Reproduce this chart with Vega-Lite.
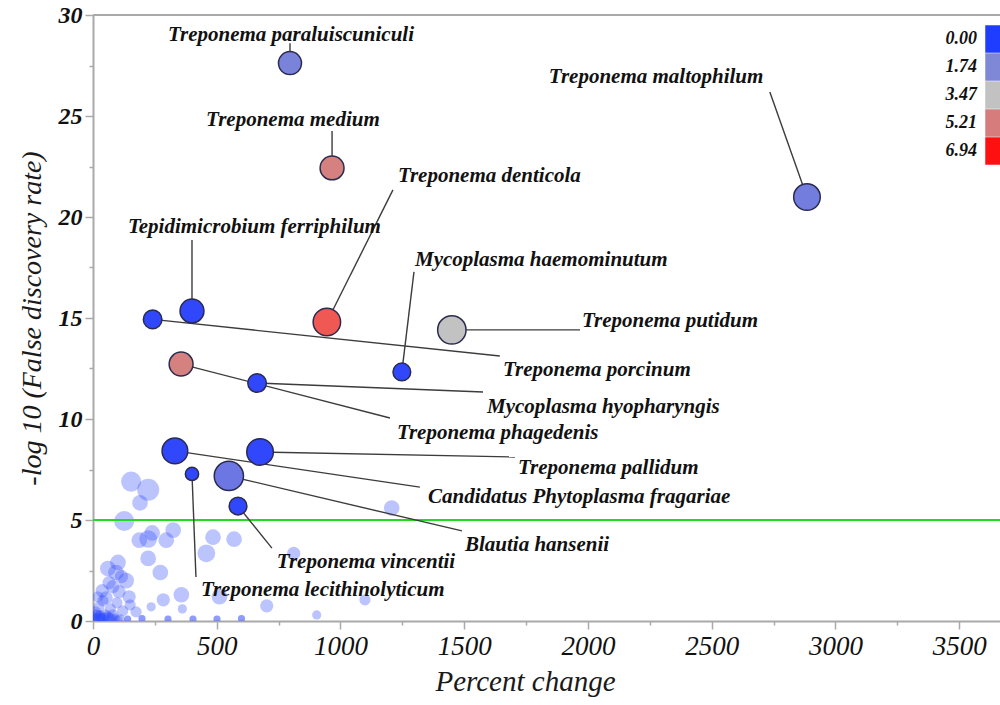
{
  "$schema": "https://vega.github.io/schema/vega-lite/v6.json",
  "width": 907,
  "height": 606,
  "autosize": "none",
  "padding": {"left": 93, "top": 15, "right": 0, "bottom": 84},
  "background": "white",
  "config": {
    "view": {"stroke": null},
    "font": "Liberation Serif",
    "legend": {
      "orient": "none", "legendX": 892, "legendY": 10, "padding": 0, "offset": 0,
      "symbolType": "square", "symbolSize": 756, "symbolStrokeWidth": 0, "symbolOpacity": 1,
      "rowPadding": 0, "labelAlign": "right", "labelOffset": -36,
      "labelFont": "Liberation Serif", "labelFontStyle": "italic", "labelFontWeight": "bold",
      "labelFontSize": 18, "labelColor": "#111111"
    }
  },
  "datasets": {
    "taxa": [
      {"name": "Treponema paraluiscuniculi", "labeled": true, "pct": 796, "fdr": 27.62, "abundance": 169, "score": 1.6, "labelX": 303, "labelY": 29.0, "lineX": 796, "lineY": 28.6},
      {"name": "Treponema medium", "labeled": true, "pct": 966, "fdr": 22.43, "abundance": 182, "score": 5.1, "labelX": 457, "labelY": 24.8, "lineX": 966, "lineY": 24.26},
      {"name": "Treponema maltophilum", "labeled": true, "pct": 2885, "fdr": 20.99, "abundance": 225, "score": 1.45, "labelX": 1842, "labelY": 26.93, "lineX": 2735, "lineY": 26.19},
      {"name": "Treponema denticola", "labeled": true, "pct": 945, "fdr": 14.8, "abundance": 240, "score": 6.0, "labelX": 1232, "labelY": 22.03, "lineX": 1212, "lineY": 21.34},
      {"name": "Tepidimicrobium ferriphilum", "labeled": true, "pct": 400, "fdr": 15.35, "abundance": 182, "score": 0.2, "labelX": 141, "labelY": 19.5, "lineX": 400, "lineY": 18.86},
      {"name": "Mycoplasma haemominutum", "labeled": true, "pct": 1248, "fdr": 12.33, "abundance": 100, "score": 0.2, "labelX": 1301, "labelY": 17.87, "lineX": 1297, "lineY": 17.28},
      {"name": "Treponema putidum", "labeled": true, "pct": 1450, "fdr": 14.41, "abundance": 256, "score": 3.47, "labelX": 1976, "labelY": 14.85, "lineX": 1968, "lineY": 14.41},
      {"name": "Treponema porcinum", "labeled": true, "pct": 241, "fdr": 14.93, "abundance": 110, "score": 0.2, "labelX": 1657, "labelY": 12.43, "lineX": 1644, "lineY": 13.12},
      {"name": "Mycoplasma hyopharyngis", "labeled": true, "pct": 663, "fdr": 11.78, "abundance": 110, "score": 0.2, "labelX": 1592, "labelY": 10.6, "lineX": 1576, "lineY": 11.34},
      {"name": "Treponema phagedenis", "labeled": true, "pct": 356, "fdr": 12.72, "abundance": 182, "score": 5.1, "labelX": 1228, "labelY": 9.3, "lineX": 1200, "lineY": 10.05},
      {"name": "Treponema pallidum", "labeled": true, "pct": 675, "fdr": 8.37, "abundance": 225, "score": 0.2, "labelX": 1717, "labelY": 7.57, "lineX": 1705, "lineY": 8.12},
      {"name": "Candidatus Phytoplasma fragariae", "labeled": true, "pct": 331, "fdr": 8.42, "abundance": 210, "score": 0.2, "labelX": 1354, "labelY": 6.14, "lineX": 1321, "lineY": 6.63},
      {"name": "Blautia hansenii", "labeled": true, "pct": 549, "fdr": 7.18, "abundance": 272, "score": 1.3, "labelX": 1503, "labelY": 3.76, "lineX": 1491, "lineY": 4.46},
      {"name": "Treponema vincentii", "labeled": true, "pct": 586, "fdr": 5.69, "abundance": 100, "score": 0.2, "labelX": 743, "labelY": 2.92, "lineX": 723, "lineY": 3.61},
      {"name": "Treponema lecithinolyticum", "labeled": true, "pct": 400, "fdr": 7.28, "abundance": 56, "score": 0.2, "labelX": 436, "labelY": 1.53, "lineX": 416, "lineY": 2.18},

      {"labeled": false, "pct": 12, "fdr": 0.3, "abundance": 40, "score": 0.2},
      {"labeled": false, "pct": 24, "fdr": 0.7, "abundance": 40, "score": 0.2},
      {"labeled": false, "pct": 37, "fdr": 1.5, "abundance": 56, "score": 0.2},
      {"labeled": false, "pct": 53, "fdr": 1.15, "abundance": 56, "score": 0.2},
      {"labeled": false, "pct": 65, "fdr": 1.9, "abundance": 56, "score": 0.2},
      {"labeled": false, "pct": 93, "fdr": 2.4, "abundance": 78, "score": 0.2},
      {"labeled": false, "pct": 97, "fdr": 0.9, "abundance": 40, "score": 0.2},
      {"labeled": false, "pct": 101, "fdr": 2.9, "abundance": 78, "score": 0.2},
      {"labeled": false, "pct": 105, "fdr": 1.45, "abundance": 56, "score": 0.2},
      {"labeled": false, "pct": 126, "fdr": 4.95, "abundance": 128, "score": 0.2},
      {"labeled": false, "pct": 134, "fdr": 2.0, "abundance": 78, "score": 0.2},
      {"labeled": false, "pct": 146, "fdr": 1.2, "abundance": 56, "score": 0.2},
      {"labeled": false, "pct": 154, "fdr": 6.9, "abundance": 128, "score": 0.2},
      {"labeled": false, "pct": 174, "fdr": 0.45, "abundance": 40, "score": 0.2},
      {"labeled": false, "pct": 187, "fdr": 4.0, "abundance": 78, "score": 0.2},
      {"labeled": false, "pct": 190, "fdr": 5.85, "abundance": 78, "score": 0.2},
      {"labeled": false, "pct": 223, "fdr": 6.5, "abundance": 155, "score": 0.2},
      {"labeled": false, "pct": 223, "fdr": 4.06, "abundance": 100, "score": 0.2},
      {"labeled": false, "pct": 223, "fdr": 3.1, "abundance": 78, "score": 0.2},
      {"labeled": false, "pct": 235, "fdr": 0.7, "abundance": 27, "score": 0.2},
      {"labeled": false, "pct": 239, "fdr": 4.36, "abundance": 78, "score": 0.2},
      {"labeled": false, "pct": 272, "fdr": 2.4, "abundance": 78, "score": 0.2},
      {"labeled": false, "pct": 284, "fdr": 1.05, "abundance": 56, "score": 0.2},
      {"labeled": false, "pct": 296, "fdr": 4.0, "abundance": 78, "score": 0.2},
      {"labeled": false, "pct": 324, "fdr": 4.5, "abundance": 78, "score": 0.2},
      {"labeled": false, "pct": 357, "fdr": 1.3, "abundance": 78, "score": 0.2},
      {"labeled": false, "pct": 361, "fdr": 0.6, "abundance": 27, "score": 0.2},
      {"labeled": false, "pct": 458, "fdr": 3.35, "abundance": 100, "score": 0.2},
      {"labeled": false, "pct": 485, "fdr": 4.15, "abundance": 78, "score": 0.2},
      {"labeled": false, "pct": 511, "fdr": 1.2, "abundance": 78, "score": 0.2},
      {"labeled": false, "pct": 570, "fdr": 4.05, "abundance": 78, "score": 0.2},
      {"labeled": false, "pct": 702, "fdr": 0.75, "abundance": 56, "score": 0.2},
      {"labeled": false, "pct": 811, "fdr": 3.35, "abundance": 56, "score": 0.2},
      {"labeled": false, "pct": 904, "fdr": 0.3, "abundance": 27, "score": 0.2},
      {"labeled": false, "pct": 1099, "fdr": 1.05, "abundance": 40, "score": 0.2},
      {"labeled": false, "pct": 1207, "fdr": 5.59, "abundance": 78, "score": 0.2},
      {"labeled": false, "pct": 60, "fdr": 2.6, "abundance": 78, "score": 0.2},
      {"labeled": false, "pct": 80, "fdr": 1.7, "abundance": 56, "score": 0.2},
      {"labeled": false, "pct": 115, "fdr": 2.2, "abundance": 56, "score": 0.2},
      {"labeled": false, "pct": 40, "fdr": 1.0, "abundance": 40, "score": 0.2},
      {"labeled": false, "pct": 70, "fdr": 0.6, "abundance": 40, "score": 0.2},
      {"labeled": false, "pct": 120, "fdr": 0.5, "abundance": 40, "score": 0.2},
      {"labeled": false, "pct": 150, "fdr": 0.8, "abundance": 40, "score": 0.2},
      {"labeled": false, "pct": 20, "fdr": 1.2, "abundance": 40, "score": 0.2},
      {"labeled": false, "pct": 5, "fdr": 0.1, "abundance": 56, "score": 0.2},
      {"labeled": false, "pct": 18, "fdr": 0.15, "abundance": 78, "score": 0.2},
      {"labeled": false, "pct": 30, "fdr": 0.25, "abundance": 40, "score": 0.2},
      {"labeled": false, "pct": 45, "fdr": 0.1, "abundance": 56, "score": 0.2},
      {"labeled": false, "pct": 60, "fdr": 0.2, "abundance": 40, "score": 0.2},
      {"labeled": false, "pct": 75, "fdr": 0.1, "abundance": 40, "score": 0.2},
      {"labeled": false, "pct": 90, "fdr": 0.15, "abundance": 27, "score": 0.2},
      {"labeled": false, "pct": 110, "fdr": 0.1, "abundance": 27, "score": 0.2},
      {"labeled": false, "pct": 35, "fdr": 0.05, "abundance": 56, "score": 0.2},
      {"labeled": false, "pct": 65, "fdr": 0.05, "abundance": 56, "score": 0.2},
      {"labeled": false, "pct": 8, "fdr": 0.4, "abundance": 56, "score": 0.2},
      {"labeled": false, "pct": 25, "fdr": 0.1, "abundance": 56, "score": 0.2},
      {"labeled": false, "pct": 50, "fdr": 0.3, "abundance": 42, "score": 0.2},
      {"labeled": false, "pct": 15, "fdr": 0.05, "abundance": 56, "score": 0.2},
      {"labeled": false, "pct": 80, "fdr": 0.3, "abundance": 42, "score": 0.2},
      {"labeled": false, "pct": 100, "fdr": 0.05, "abundance": 30, "score": 0.2},
      {"labeled": false, "pct": 140, "fdr": 0.1, "abundance": 16, "score": 0.2},
      {"labeled": false, "pct": 140, "fdr": 0.1, "abundance": 16, "score": 0.2},
      {"labeled": false, "pct": 198, "fdr": 0.12, "abundance": 16, "score": 0.2},
      {"labeled": false, "pct": 198, "fdr": 0.12, "abundance": 16, "score": 0.2},
      {"labeled": false, "pct": 303, "fdr": 0.1, "abundance": 16, "score": 0.2},
      {"labeled": false, "pct": 303, "fdr": 0.1, "abundance": 16, "score": 0.2},
      {"labeled": false, "pct": 404, "fdr": 0.1, "abundance": 16, "score": 0.2},
      {"labeled": false, "pct": 404, "fdr": 0.1, "abundance": 16, "score": 0.2},
      {"labeled": false, "pct": 501, "fdr": 0.1, "abundance": 16, "score": 0.2},
      {"labeled": false, "pct": 501, "fdr": 0.1, "abundance": 16, "score": 0.2},
      {"labeled": false, "pct": 600, "fdr": 0.12, "abundance": 16, "score": 0.2},
      {"labeled": false, "pct": 600, "fdr": 0.12, "abundance": 16, "score": 0.2}
    ],
    "guides": [
      {"role": "frame", "level": 30},
      {"role": "threshold", "level": 5}
    ]
  },
  "data": {"name": "taxa"},
  "layer": [
    {
      "data": {"name": "guides"},
      "transform": [{"filter": "datum.role === 'frame'"}],
      "mark": {"type": "rule", "color": "#a9a9a9", "strokeWidth": 2},
      "encoding": {
        "y": {"field": "level", "type": "quantitative", "scale": {"domain": [0, 30], "nice": false}}
      }
    },
    {
      "transform": [{"filter": "!datum.labeled"}],
      "mark": {"type": "circle", "opacity": 0.32, "clip": true},
      "encoding": {
        "x": {"field": "pct", "type": "quantitative"},
        "y": {"field": "fdr", "type": "quantitative"},
        "size": {"field": "abundance", "type": "quantitative", "scale": {"type": "linear", "domain": [0, 300], "range": [0, 942.5]}, "legend": null},
        "color": {
          "field": "score", "type": "quantitative",
          "scale": {"domain": [0, 1.74, 3.47, 5.21, 6.94], "range": ["#1f3dff", "#7f88d6", "#c2c2c2", "#d67c7c", "#ff1010"]},
          "legend": {"type": "symbol", "values": [0, 1.74, 3.47, 5.21, 6.94], "format": ".2f", "title": null}
        }
      }
    },
    {
      "data": {"name": "guides"},
      "transform": [{"filter": "datum.role === 'threshold'"}],
      "mark": {"type": "rule", "color": "#1fdc1f", "strokeWidth": 2},
      "encoding": {
        "y": {"field": "level", "type": "quantitative"}
      }
    },
    {
      "transform": [{"filter": "datum.labeled"}],
      "mark": {"type": "rule", "color": "#3c3c3c", "strokeWidth": 1.4},
      "encoding": {
        "x": {"field": "pct", "type": "quantitative"},
        "y": {"field": "fdr", "type": "quantitative"},
        "x2": {"field": "lineX"},
        "y2": {"field": "lineY"}
      }
    },
    {
      "transform": [{"filter": "datum.labeled"}],
      "mark": {"type": "circle", "opacity": 1, "stroke": "#2b2b50", "strokeWidth": 1.5},
      "encoding": {
        "x": {
          "field": "pct", "type": "quantitative",
          "scale": {"domain": [0, 3665], "nice": false, "zero": true},
          "axis": {
            "title": "Percent change",
            "titleFont": "Liberation Serif", "titleFontStyle": "italic", "titleFontWeight": "normal",
            "titleFontSize": 29, "titleColor": "#1a1a1a", "titlePadding": 8, "titleX": 432,
            "labelFont": "Liberation Serif", "labelFontStyle": "italic", "labelFontSize": 27,
            "labelColor": "#111111", "labelPadding": 4, "labelFlush": false, "labelOverlap": false,
            "format": "d",
            "values": [0, 250, 500, 750, 1000, 1250, 1500, 1750, 2000, 2250, 2500, 2750, 3000, 3250, 3500],
            "labelExpr": "datum.value % 500 === 0 ? datum.label : ''",
            "domainColor": "#a9a9a9", "domainWidth": 2,
            "tickColor": "#a9a9a9", "tickWidth": 1.5,
            "tickSize": {"condition": {"test": "datum.value % 500 !== 0", "value": 4}, "value": 8},
            "grid": false
          }
        },
        "y": {
          "field": "fdr", "type": "quantitative",
          "scale": {"domain": [0, 30], "nice": false},
          "axis": {
            "title": "-log 10 (False discovery rate)",
            "titleFont": "Liberation Serif", "titleFontStyle": "italic", "titleFontWeight": "normal",
            "titleFontSize": 28, "titleColor": "#1a1a1a", "titlePadding": 12,
            "labelFont": "Liberation Serif", "labelFontStyle": "italic", "labelFontWeight": "bold",
            "labelFontSize": 24, "labelColor": "#111111", "labelPadding": 3, "labelFlush": false, "labelOverlap": false,
            "values": [0, 2.5, 5, 7.5, 10, 12.5, 15, 17.5, 20, 22.5, 25, 27.5, 30],
            "labelExpr": "datum.value % 5 === 0 ? datum.label : ''",
            "domainColor": "#a9a9a9", "domainWidth": 2,
            "tickColor": "#a9a9a9", "tickWidth": 1.5,
            "tickSize": {"condition": {"test": "datum.value % 5 !== 0", "value": 4}, "value": 8},
            "grid": false
          }
        },
        "size": {"field": "abundance", "type": "quantitative", "legend": null},
        "color": {
          "field": "score", "type": "quantitative",
          "legend": {"type": "symbol", "values": [0, 1.74, 3.47, 5.21, 6.94], "format": ".2f", "title": null}
        }
      }
    },
    {
      "transform": [{"filter": "datum.labeled"}],
      "mark": {"type": "text", "align": "left", "baseline": "middle", "font": "Liberation Serif", "fontStyle": "italic", "fontWeight": "bold", "fontSize": 21, "color": "#111111"},
      "encoding": {
        "x": {"field": "labelX", "type": "quantitative"},
        "y": {"field": "labelY", "type": "quantitative"},
        "text": {"field": "name"}
      }
    }
  ]
}
